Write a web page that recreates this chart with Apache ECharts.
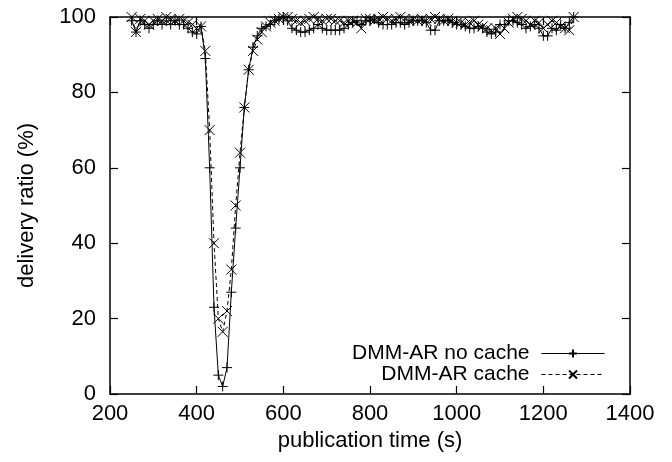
<!DOCTYPE html>
<html><head><meta charset="utf-8">
<script src="https://cdn.jsdelivr.net/npm/echarts@6/dist/echarts.min.js"></script>
<style>html,body{margin:0;padding:0;background:#fff}#c{width:672px;height:462px}</style>
</head><body><div id="c"></div>
<script>
const times = [250,260,270,280,290,300,310,320,330,340,350,360,370,380,390,400,410,420,430,440,450,460,470,480,490,500,510,520,530,540,550,560,570,580,590,600,610,620,630,640,650,660,670,680,690,700,710,720,730,740,750,760,770,780,790,800,810,820,830,840,850,860,870,880,890,900,910,920,930,940,950,960,970,980,990,1000,1010,1020,1030,1040,1050,1060,1070,1080,1090,1100,1110,1120,1130,1140,1150,1160,1170,1180,1190,1200,1210,1220,1230,1240,1250,1260,1270];
const noCache = [99,96,99,98,97,98,99,98,99,98,99,98,98,97,96,95.5,97.5,89,60,23,5,2,7,27,44,60,76,86,92,95,97,97.5,98,99,99.5,100,99,97,96.5,96,96,96.5,97,98,97,96.5,96.5,96.5,96.5,97,98,98.5,99,98,99,99,99.5,98.5,98,98,98,98.5,98.5,98,98.5,99,99,99,98.5,96.5,96.5,99,99,99,98.5,98,98,97.5,97,97,97.5,97,96,95.5,96,98,98,99,99,98.5,98,97,97.5,98,97,95,95,97,96.5,98,97,98.5,100];
const cache = [100,96,99.5,99,98,99,99.5,99,100,99.5,99,99.5,99,98.5,98,97,97.5,91,70,40,20,16.5,22,33,50,64,76,86,91,94,96,97.5,98.5,99,99.5,100,100,99.5,99,98.5,99,99.5,100,99.5,99,99.5,99.5,99,99,98.5,99,99,98.5,97,99.5,99.5,99,99.5,100,99.5,99,99.5,100,99.5,99,99.5,99,99.5,99,99.5,100,99.5,99,99.5,99,98.5,98.5,98,98.5,99,98,97.5,97,96.5,97,95.5,97,98.5,99.5,100,99.5,99,98,99,98.5,97,98,99,98.5,97.5,97,96.5,100];
const seriesNames = ['DMM-AR no cache', 'DMM-AR cache'];
const xRange = [200, 1400, 200];
const yRange = [0, 100, 20];

const FONT = 'Liberation Sans';
const FS = 22;
const plusSym = 'path://M5,0L5,10M0,5L10,5';
const crossSym = 'path://M0,0L10,10M10,0L0,10';

const axisCommon = {
  type: 'value',
  axisLine: { show: true, onZero: false, lineStyle: { color: '#000', width: 1.5 } },
  axisTick: { show: true, inside: true, length: 8, lineStyle: { color: '#000', width: 1.2 } },
  splitLine: { show: false }
};

const chart = echarts.init(document.getElementById('c'), null, { renderer: 'canvas' });
chart.setOption({
  animation: false,
  backgroundColor: '#fff',
  textStyle: { fontFamily: FONT },
  grid: { left: 110, right: 42, top: 17, bottom: 68 },
  xAxis: [
    Object.assign({}, axisCommon, {
      position: 'bottom', min: xRange[0], max: xRange[1], interval: xRange[2],
      name: 'publication time (s)', nameLocation: 'middle', nameGap: 35,
      nameTextStyle: { color: '#000', fontSize: FS, fontFamily: FONT },
      axisLabel: { color: '#000', fontSize: FS, fontFamily: FONT, margin: 9, formatter: v => String(v) }
    }),
    Object.assign({}, axisCommon, {
      position: 'top', min: xRange[0], max: xRange[1], interval: xRange[2],
      axisLabel: { show: false }
    })
  ],
  yAxis: [
    Object.assign({}, axisCommon, {
      position: 'left', min: yRange[0], max: yRange[1], interval: yRange[2],
      name: 'delivery ratio (%)', nameLocation: 'middle', nameGap: 72,
      nameTextStyle: { color: '#000', fontSize: FS, fontFamily: FONT },
      axisLabel: { color: '#000', fontSize: FS, fontFamily: FONT, margin: 14, formatter: v => String(v) }
    }),
    Object.assign({}, axisCommon, {
      position: 'right', min: yRange[0], max: yRange[1], interval: yRange[2],
      axisLabel: { show: false }
    })
  ],
  legend: {
    orient: 'vertical', right: 67, top: 343, padding: 0,
    align: 'right', itemWidth: 63, itemHeight: 10, itemGap: 0,
    lineStyle: { width: 1 },
    textStyle: { color: '#000', fontSize: 21, fontFamily: FONT, lineHeight: 20, height: 20, padding: [0, 7, 0, 0] },
    data: seriesNames
  },
  series: [
    {
      name: seriesNames[0], type: 'line', xAxisIndex: 0, yAxisIndex: 0,
      data: times.map((t, i) => [t, noCache[i]]),
      symbol: plusSym, symbolSize: 10, showSymbol: true, showAllSymbol: true,
      lineStyle: { color: '#000', width: 1, type: 'solid' },
      itemStyle: { color: '#000', borderColor: '#000', borderWidth: 1 },
      emphasis: { disabled: true }
    },
    {
      name: seriesNames[1], type: 'line', xAxisIndex: 0, yAxisIndex: 0,
      data: times.map((t, i) => [t, cache[i]]),
      symbol: crossSym, symbolSize: 10, showSymbol: true, showAllSymbol: true,
      lineStyle: { color: '#000', width: 1, type: [4, 3] },
      itemStyle: { color: '#000', borderColor: '#000', borderWidth: 1 },
      emphasis: { disabled: true }
    }
  ]
});
</script>
</body></html>
